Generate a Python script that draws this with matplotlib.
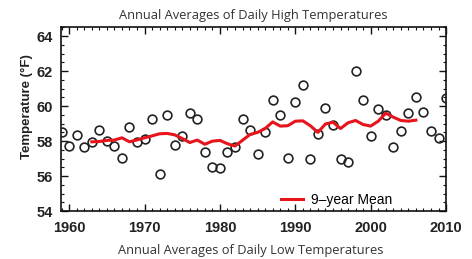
import matplotlib.pyplot as plt
from matplotlib.lines import Line2D
from matplotlib.ticker import MultipleLocator

years = list(range(1959, 2011))
high_temps = [58.53, 57.71, 58.34, 57.67, 57.94, 58.65, 57.98, 57.71, 57.03, 58.78,
              57.94, 58.15, 59.27, 56.10, 59.50, 57.77, 58.29, 59.58, 59.26, 57.35,
              56.51, 56.47, 57.39, 57.66, 59.27, 58.65, 57.27, 58.51, 60.33, 59.47,
              57.01, 60.23, 61.22, 56.95, 58.42, 59.92, 58.91, 56.95, 56.82, 62.00,
              60.34, 58.29, 59.83, 59.52, 57.67, 58.57, 59.58, 60.55, 59.69, 58.57,
              58.19, 60.47]

mean_years = list(range(1963, 2007))
mean_9yr = [57.96, 57.98, 58.04, 58.06, 58.19, 57.96, 58.07, 58.19, 58.30, 58.42,
            58.44, 58.36, 58.15, 57.92, 58.06, 57.82, 58.00, 58.04, 57.85, 57.72,
            58.05, 58.38, 58.50, 58.72, 59.10, 58.86, 58.88, 59.14, 59.16, 58.88,
            58.50, 58.98, 59.08, 58.72, 59.05, 59.18, 58.95, 58.86, 59.14, 59.60,
            59.37, 59.18, 59.14, 59.20]

title_top = 'Annual Averages of Daily High Temperatures'
title_bottom = 'Annual Averages of Daily Low Temperatures'

fig = plt.figure(figsize=(4.72, 2.59), dpi=100)
ax = fig.add_axes([0.129, 0.185, 0.816, 0.709])

ax.plot(years, high_temps, 'o', markerfacecolor='none', markeredgecolor='#222222',
        markersize=6.3, markeredgewidth=1.2, zorder=3)
ax.plot(mean_years, mean_9yr, color='#e8141c', linewidth=2.2, zorder=4)

ax.set_xlim(1958.9, 2010.0)
ax.set_ylim(54, 64.5)
ax.xaxis.set_major_locator(MultipleLocator(10))
ax.xaxis.set_minor_locator(MultipleLocator(1))
ax.yaxis.set_major_locator(MultipleLocator(2))
ax.yaxis.set_minor_locator(MultipleLocator(0.5))
ax.tick_params(which='both', direction='in', top=True, right=True, color='#111111')
ax.tick_params(which='major', length=5, width=1)
ax.tick_params(axis='x', which='major', pad=7)
ax.tick_params(axis='y', which='major', pad=6)
ax.tick_params(which='minor', length=2.5, width=0.8)
for s in ax.spines.values():
    s.set_linewidth(1.2)
    s.set_color('#111111')

for lab in ax.get_xticklabels() + ax.get_yticklabels():
    lab.set_fontfamily('Liberation Sans')
    lab.set_fontweight('bold')
    lab.set_fontsize(10.5)
    lab.set_color('#222222')

ax.set_ylabel('Temperature (°F)', fontfamily='Liberation Sans', fontweight='bold',
              fontsize=9.5, color='#222222')
ax.yaxis.set_label_coords(-0.072, 0.567)

handle = Line2D([], [], color='#e8141c', linewidth=2.2)
ax.legend([handle], ['9\u2013year Mean'], loc='center left', frameon=False,
          prop={'family': 'Liberation Sans', 'size': 10},
          handlelength=1.6, handletextpad=0.58, borderpad=0, borderaxespad=0,
          bbox_to_anchor=(0.571, 0.06))

fig.text(0.536, 0.942, title_top, ha='center', va='center',
         fontfamily='Open Sans', fontsize=9.3, color='#333333')
fig.text(0.532, 0.032, title_bottom, ha='center', va='center',
         fontfamily='Open Sans', fontsize=9.3, color='#333333')

plt.savefig('out.png', dpi=100)
plt.close()
